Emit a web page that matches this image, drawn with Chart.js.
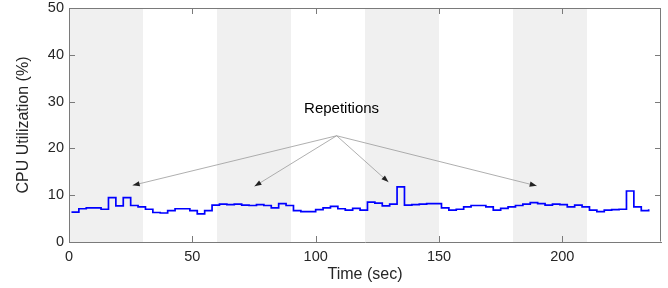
<!DOCTYPE html>
<html><head><meta charset="utf-8">
<script src="https://cdn.jsdelivr.net/npm/chart.js@4/dist/chart.umd.min.js"></script>
<style>html,body{margin:0;padding:0;background:#fff}#wrap{width:668px;height:288px;position:relative}</style>
</head><body><div id="wrap"><canvas id="c" width="668" height="288"></canvas></div>
<script>
// ---- data ----
const timeSec = [1,4,7,10,13,16,19,22,25,28,31,34,37,40,43,46,49,52,55,58,
  61,64,67,70,73,76,79,82,85,88,91,94,97,100,103,106,109,112,115,118,
  121,124,127,130,133,136,139,142,145,148,151,154,157,160,163,166,169,172,175,178,
  181,184,187,190,193,196,199,202,205,208,211,214,217,220,223,226,229,232,235];
const cpuUtil = [6.4,7.1,7.3,7.3,7.0,9.5,7.7,9.5,7.8,7.5,7.0,6.3,6.2,6.7,7.1,7.1,6.7,6.0,6.7,7.9,
  8.1,8.0,8.1,7.9,7.8,8.0,7.8,7.3,8.2,7.8,6.7,6.5,6.5,6.9,7.3,7.6,7.1,6.8,7.2,6.8,
  8.5,8.3,7.7,8.1,11.8,7.9,8.0,8.1,8.2,8.2,7.3,6.8,7.0,7.5,7.8,7.8,7.5,6.8,7.2,7.5,
  7.8,8.1,8.4,8.2,7.9,8.1,8.0,7.5,7.9,7.5,6.8,6.5,6.8,6.9,7.0,10.9,7.5,6.7,7.0];
const shadedBands = [[0,30],[60,90],[120,150],[180,210]];
const xTicks = [0,50,100,150,200];
const yTicks = [0,10,20,30,40,50];
const annotationText = "Repetitions";
const annotationTextPos = [110.5, 28.4];
const arrowOrigin = [108.5, 22.7];
const arrowTips = [[25.8,12.1],[75.2,11.9],[129.5,12.8],[189.6,12.0]];

const FONT = "'Liberation Sans', Arial, Helvetica, sans-serif";
const AX = '#262626';

const decor = {
  id: 'decor',
  beforeDraw(chart) {
    const {ctx, chartArea: a, scales: {x, y}} = chart;
    ctx.save();
    ctx.fillStyle = '#f0f0f0';
    shadedBands.forEach(([s, e]) => {
      const x0 = Math.max(a.left, x.getPixelForValue(s));
      const x1 = Math.min(a.right, x.getPixelForValue(e));
      ctx.fillRect(x0, a.top, x1 - x0, a.bottom - a.top);
    });
    ctx.restore();
  },
  afterDatasetsDraw(chart) {
    const {ctx, chartArea: a, scales: {x, y}} = chart;
    ctx.save();
    // box
    ctx.strokeStyle = '#7a7a7a';
    ctx.lineWidth = 1;
    ctx.beginPath();
    ctx.moveTo(Math.round(a.left) + 0.5, Math.round(a.top) + 0.5);
    ctx.lineTo(Math.round(a.right) - 0.5, Math.round(a.top) + 0.5);
    ctx.lineTo(Math.round(a.right) - 0.5, Math.round(a.bottom) - 0.5);
    ctx.stroke();
    // inward ticks
    const tl = 6;
    ctx.beginPath();
    xTicks.forEach(v => {
      const px = Math.round(x.getPixelForValue(v)) + 0.5;
      ctx.moveTo(px, a.bottom); ctx.lineTo(px, a.bottom - tl);
      ctx.moveTo(px, a.top); ctx.lineTo(px, a.top + tl);
    });
    yTicks.forEach(v => {
      const py = Math.round(y.getPixelForValue(v)) + 0.5;
      ctx.moveTo(a.left, py); ctx.lineTo(a.left + tl, py);
      ctx.moveTo(a.right, py); ctx.lineTo(a.right - tl, py);
    });
    ctx.stroke();
    // annotation
    const ox = x.getPixelForValue(arrowOrigin[0]);
    const oy = y.getPixelForValue(arrowOrigin[1]);
    arrowTips.forEach(([tx, ty]) => {
      const px = x.getPixelForValue(tx), py = y.getPixelForValue(ty);
      ctx.strokeStyle = '#9a9a9a';
      ctx.lineWidth = 0.8;
      ctx.beginPath(); ctx.moveTo(ox, oy); ctx.lineTo(px, py); ctx.stroke();
      const ang = Math.atan2(py - oy, px - ox);
      const L = 7, W = 2.6;
      ctx.fillStyle = '#222';
      ctx.beginPath();
      ctx.moveTo(px, py);
      ctx.lineTo(px - L*Math.cos(ang) + W*Math.sin(ang), py - L*Math.sin(ang) - W*Math.cos(ang));
      ctx.lineTo(px - L*Math.cos(ang) - W*Math.sin(ang), py - L*Math.sin(ang) + W*Math.cos(ang));
      ctx.closePath(); ctx.fill();
    });
    ctx.fillStyle = '#000';
    ctx.font = '15px ' + FONT;
    ctx.textAlign = 'center';
    ctx.textBaseline = 'middle';
    ctx.fillText(annotationText, x.getPixelForValue(annotationTextPos[0]), y.getPixelForValue(annotationTextPos[1]));
    ctx.restore();
  }
};

new Chart(document.getElementById('c'), {
  type: 'line',
  data: {
    datasets: [{
      data: timeSec.map((t, i) => ({x: t, y: cpuUtil[i]})),
      borderColor: '#0000ff',
      borderWidth: 1.7,
      pointRadius: 0,
      stepped: 'before',
      fill: false
    }]
  },
  options: {
    responsive: false,
    animation: false,
    events: [],
    layout: {padding: {left: 0, right: 7, top: 0, bottom: 0}},
    plugins: {legend: {display: false}, tooltip: {enabled: false}},
    scales: {
      x: {
        type: 'linear', min: 0, max: 240,
        afterBuildTicks: s => { s.ticks = xTicks.map(v => ({value: v})); },
        afterFit: s => { s.height = 46; },
        grid: {display: false, drawTicks: false},
        border: {display: true, color: '#7a7a7a', width: 1},
        ticks: {font: {family: FONT, size: 14.5, lineHeight: 1.1}, color: AX, padding: 7, maxRotation: 0},
        title: {display: true, text: 'Time (sec)', font: {family: FONT, size: 16}, color: AX, padding: {top: 0, bottom: 3.5}}
      },
      y: {
        min: 0, max: 50,
        afterBuildTicks: s => { s.ticks = yTicks.map(v => ({value: v})); },
        afterFit: s => { s.width = 69; s.paddingTop = 8; s.paddingBottom = 0; },
        grid: {display: false, drawTicks: false},
        border: {display: true, color: '#7a7a7a', width: 1},
        ticks: {font: {family: FONT, size: 14.5, lineHeight: 1.1}, color: AX, padding: 5},
        title: {display: true, text: 'CPU Utilization (%)', font: {family: FONT, size: 16}, color: AX, padding: {top: 14, bottom: 0}}
      }
    }
  },
  plugins: [decor]
});
</script>
</body></html>
